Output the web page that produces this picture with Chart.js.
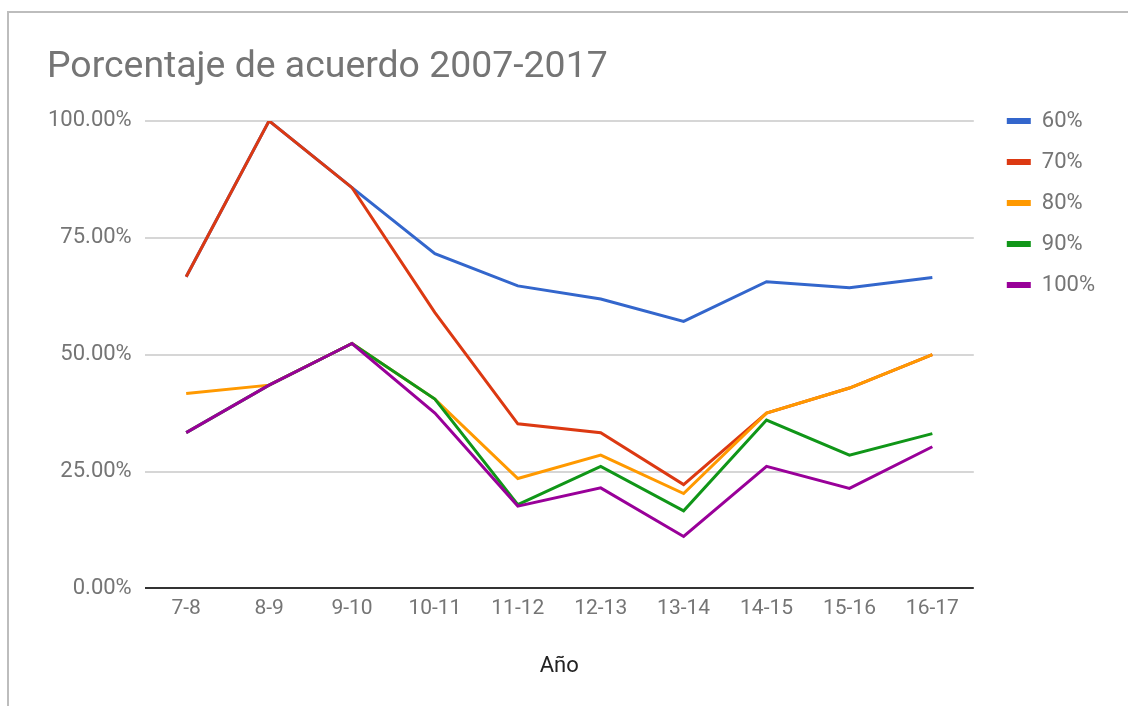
<!DOCTYPE html>
<html>
<head>
<meta charset="utf-8">
<script src="https://cdn.jsdelivr.net/npm/chart.js@4.4.0/dist/chart.umd.min.js"></script>
<style>
  html, body { margin: 0; padding: 0; background: #fff; overflow: hidden; }
  #frame {
    position: absolute; left: 7px; top: 11px; width: 1121px; height: 695px;
    border-top: 2px solid #bdbdbd; border-left: 2px solid #bdbdbd;
  }
  #wrap { position: absolute; left: 0; top: 0; width: 1119px; height: 693px; }
</style>
</head>
<body>
<div id="frame"><div id="wrap"><canvas id="chart"></canvas></div></div>
<script>
// Porcentaje de acuerdo por año escolar
const years = ["7-8", "8-9", "9-10", "10-11", "11-12", "12-13", "13-14", "14-15", "15-16", "16-17"];
const seriesNames = ["60%", "70%", "80%", "90%", "100%"];
const colors = ["#3366cc", "#dc3912", "#ff9900", "#109618", "#990099"];

const s60  = [66.67, 100, 85.71, 71.6, 64.7, 61.9, 57.1, 65.6, 64.3, 66.5];
const s70  = [66.67, 100, 85.71, 59.0, 35.2, 33.3, 22.2, 37.5, 42.86, 50.0];
const s80  = [41.67, 43.48, 52.38, 40.5, 23.5, 28.5, 20.3, 37.5, 42.86, 50.0];
const s90  = [33.33, 43.48, 52.38, 40.5, 17.9, 26.1, 16.6, 36.0, 28.5, 33.1];
const s100 = [33.33, 43.48, 52.38, 37.5, 17.6, 21.5, 11.1, 26.1, 21.4, 30.3];
const allSeries = [s60, s70, s80, s90, s100];

const datasets = allSeries.map((vals, i) => ({
    label: seriesNames[i],
    data: vals,
    borderColor: colors[i],
    backgroundColor: colors[i],
    borderWidth: 3,
    pointRadius: 0,
    tension: 0,
    order: allSeries.length - i   // later series drawn on top
}));

// move the legend down next to the plot top, like the sheet chart
const legendShift = {
    id: "legendShift",
    afterLayout(chart) {
        const lg = chart.legend;
        lg.top += 46; lg.bottom += 46;
        lg.left += 14; lg.right += 14;
    }
};

const ctx = document.getElementById("chart").getContext("2d");
new Chart(ctx, {
    type: "line",
    data: { labels: years, datasets: datasets },
    plugins: [legendShift],
    options: {
        responsive: true,
        maintainAspectRatio: false,
        animation: false,
        layout: { padding: { left: 38, right: 37, top: 32, bottom: 26 } },
        plugins: {
            title: {
                display: true,
                text: "Porcentaje de acuerdo 2007-2017",
                align: "start",
                color: "#757575",
                font: { family: "Roboto", size: 37.4, weight: "normal" },
                padding: { top: 0, bottom: 31 }
            },
            legend: {
                position: "right",
                align: "start",
                labels: {
                    boxWidth: 24,
                    boxHeight: 6,
                    padding: 19,
                    color: "#757575",
                    font: { family: "Roboto", size: 22 },
                    sort: (a, b) => a.datasetIndex - b.datasetIndex,
                    generateLabels: (chart) =>
                        Chart.defaults.plugins.legend.labels.generateLabels(chart).map(l => {
                            l.lineWidth = 0;
                            return l;
                        })
                }
            },
            tooltip: { enabled: false }
        },
        scales: {
            x: {
                offset: true,
                grid: { display: false, drawTicks: false },
                border: { display: false },
                ticks: { color: "#757575", font: { family: "Roboto", size: 21 }, padding: 8 },
                title: {
                    display: true,
                    text: "Año",
                    color: "#222222",
                    font: { family: "Roboto", size: 22 },
                    padding: { top: 24, bottom: 0 }
                }
            },
            y: {
                min: 0,
                max: 100,
                afterFit: scale => { scale.width -= 12; },
                ticks: {
                    stepSize: 25,
                    padding: 13,
                    color: "#757575",
                    font: { family: "Roboto", size: 22 },
                    callback: v => v.toFixed(2) + "%"
                },
                grid: {
                    drawTicks: false,
                    lineWidth: 2,
                    color: ctx => ctx.tick.value === 0 ? "#333333" : "#d6d6d6"
                },
                border: { display: false }
            }
        }
    }
});
</script>
</body>
</html>
